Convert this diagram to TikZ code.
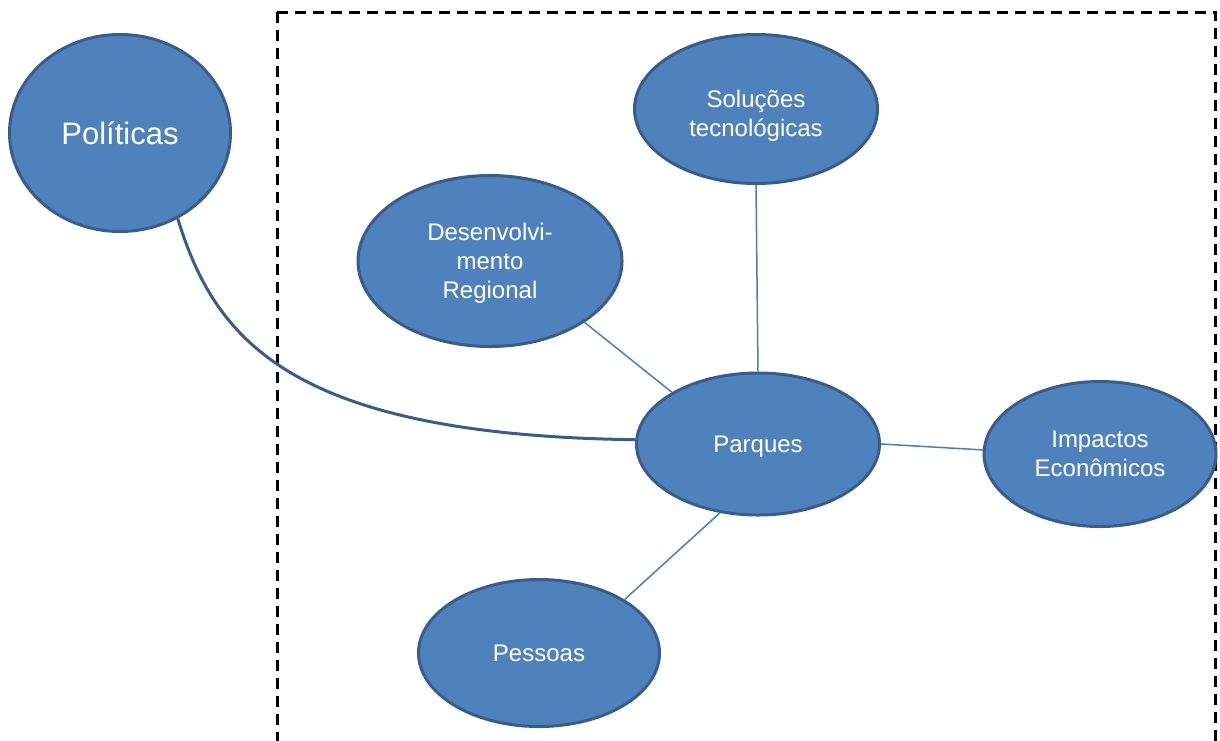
\documentclass[tikz,border=0pt]{standalone}
\usepackage{fontspec}
\setmainfont{Liberation Sans}
\usetikzlibrary{shapes.geometric}
\definecolor{bubfill}{HTML}{4F81BD}
\definecolor{bubline}{HTML}{385D8A}
\definecolor{linkcol}{HTML}{4A7EBB}
\begin{document}
\begin{tikzpicture}[x=1pt,y=-1pt,
  bubble/.style={ellipse, draw=bubline, fill=bubfill, line width=3pt, inner sep=0pt,
    text=white, align=center, font=\fontsize{24}{29}\selectfont},
  link/.style={draw=linkcol, line width=1.5pt},
  biglink/.style={draw=bubline, line width=3pt},
  frame/.style={draw=black, line width=3pt, dash pattern=on 11pt off 7pt}]
\useasboundingbox (0,0) rectangle (1220,740);
\draw[frame] (277,12) -- (1215,12) -- (1215,760);
\draw[frame] (277,12) -- (277,760);
\node[bubble, minimum width=221pt, minimum height=197pt, font=\fontsize{31}{36}\selectfont] (pol) at (120,133) {Políticas};
\node[bubble, minimum width=243pt, minimum height=149pt] (sol) at (756,109) {\rule{0pt}{31pt}Soluções\\tecnológicas};
\node[bubble, minimum width=264pt, minimum height=171pt] (dev) at (490,261) {\rule{0pt}{21.5pt}Desenvolvi-\\mento\\Regional};
\node[bubble, minimum width=243pt, minimum height=142pt, text depth=0pt] (par) at (758,444) {Parques};
\node[bubble, minimum width=232pt, minimum height=145pt] (imp) at (1100,454) {Impactos\\Econômicos};
\node[bubble, minimum width=241pt, minimum height=147pt] (pes) at (539,653) {Pessoas};
\draw[link] (par.north) -- (sol.south);
\draw[link] (dev.-33) -- (par.149);
\draw[link] (par.0) -- (imp.178);
\draw[link] (par.241) -- (pes.32);
\draw[biglink] (pol.-56) .. controls (215,340) and (290,435) .. (par.178);
\end{tikzpicture}
\end{document}
